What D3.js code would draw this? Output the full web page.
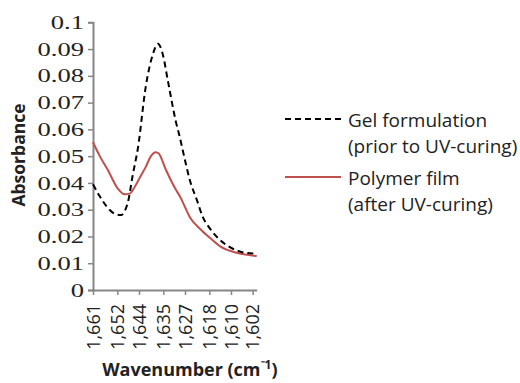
<!DOCTYPE html>
<html>
<head>
<meta charset="utf-8">
<script src="https://cdn.jsdelivr.net/npm/d3@7"></script>
<style>
  body { margin: 0; background: #fff; }
  svg { display: block; }
</style>
</head>
<body>
<div id="chart"></div>
<script>
// Gel formulation (prior to UV-curing)
const gelWavenumber = [1661.0, 1658.5, 1655.8, 1653.0, 1650.7, 1648.1, 1646.3, 1644.4, 1641.5, 1638.9, 1637.0, 1635.2, 1633.3, 1630.4, 1628.9, 1627.0, 1625.2, 1622.6, 1620.4, 1617.8, 1614.1, 1610.4, 1604.1, 1601.0];
const gelAbsorbance = [0.0395, 0.0350, 0.0310, 0.0285, 0.0280, 0.0328, 0.0430, 0.0530, 0.0760, 0.0880, 0.0920, 0.0880, 0.0780, 0.0630, 0.0570, 0.0485, 0.0410, 0.0336, 0.0272, 0.0230, 0.0187, 0.0160, 0.0138, 0.0136];

// Polymer film (after UV-curing)
const filmWavenumber = [1661.0, 1658.5, 1655.6, 1651.9, 1649.3, 1647.4, 1645.6, 1643.7, 1641.5, 1639.6, 1637.8, 1636.7, 1634.1, 1630.4, 1628.9, 1627.0, 1625.2, 1621.4, 1617.7, 1614.0, 1607.6, 1600.5];
const filmAbsorbance = [0.0552, 0.0500, 0.0450, 0.0380, 0.0358, 0.0360, 0.0385, 0.0420, 0.0460, 0.0500, 0.0515, 0.0510, 0.0450, 0.0375, 0.0350, 0.0310, 0.0272, 0.0228, 0.0194, 0.0163, 0.0138, 0.0127];

const xTicks = [1661, 1652, 1644, 1635, 1627, 1618, 1610, 1602];
const yTicks = [0, 0.01, 0.02, 0.03, 0.04, 0.05, 0.06, 0.07, 0.08, 0.09, 0.1];

const seriesNames = [["Gel formulation", "(prior to UV-curing)"], ["Polymer film", "(after UV-curing)"]];

const width = 520, height = 383;
const plot = { left: 93, right: 256.7, top: 22.3, bottom: 290 };

const svg = d3.select('#chart')
  .append('svg')
  .attr('width', width)
  .attr('height', height);

const x = d3.scaleLinear()
  .domain([1661, 1600.5])
  .range([plot.left, plot.right]);

const y = d3.scaleLinear()
  .domain([0, 0.1])
  .range([plot.bottom, plot.top]);

const axisColor = '#868686';

// Y axis
svg.append('g')
  .attr('transform', `translate(${plot.left},0)`)
  .call(d3.axisLeft(y).tickValues(yTicks).tickSize(5).tickPadding(4)
    .tickFormat(d => d === 0 ? '0' : d3.format('.2~f')(d)))
  .call(g => g.select('.domain').attr('stroke', axisColor).attr('stroke-width', 2))
  .call(g => g.selectAll('.tick line').attr('stroke', axisColor).attr('stroke-width', 1.5))
  .call(g => g.selectAll('.tick text')
    .attr('fill', '#222')
    .attr('x', -9 / 1.4)
    .attr('transform', 'scale(1.4,1)')
    .style('font-family', '"Liberation Serif", serif')
    .style('font-size', '19px'));

// X axis
svg.append('g')
  .attr('transform', `translate(0,${plot.bottom})`)
  .call(d3.axisBottom(x).tickValues(xTicks).tickSize(5).tickSizeOuter(0)
    .tickFormat(d3.format(',')))
  .call(g => g.select('.domain').attr('stroke', axisColor).attr('stroke-width', 2))
  .call(g => g.selectAll('.tick line').attr('stroke', axisColor).attr('stroke-width', 1.5))
  .call(g => g.selectAll('.tick text')
    .attr('fill', '#222')
    .attr('transform', 'rotate(-90)')
    .attr('text-anchor', 'end')
    .attr('x', -14)
    .attr('y', 0)
    .attr('dy', '0.35em')
    .style('font-family', '"Open Sans", sans-serif')
    .style('font-size', '18px'));

// Axis titles
svg.append('text')
  .attr('transform', `translate(25,155) rotate(-90)`)
  .attr('text-anchor', 'middle')
  .style('font-family', '"Open Sans", sans-serif')
  .style('font-weight', 'bold')
  .style('font-size', '17.5px')
  .attr('fill', '#222')
  .text('Absorbance');

const xTitle = svg.append('text')
  .attr('x', (plot.left + plot.right) / 2 + 15)
  .attr('y', 376)
  .attr('text-anchor', 'middle')
  .style('font-family', '"Open Sans", sans-serif')
  .style('font-weight', 'bold')
  .style('font-size', '18px')
  .attr('fill', '#222');
xTitle.append('tspan').text('Wavenumber (cm');
xTitle.append('tspan').attr('dy', -7).style('font-size', '12px').text('\u207B1');
xTitle.append('tspan').attr('dy', 7).text(')');

// Lines
const gelData = gelWavenumber.map((w, i) => ({ w, a: gelAbsorbance[i] }));
const filmData = filmWavenumber.map((w, i) => ({ w, a: filmAbsorbance[i] }));

const line = d3.line()
  .x(d => x(d.w))
  .y(d => y(d.a))
  .curve(d3.curveMonotoneX);

svg.append('path')
  .datum(filmData)
  .attr('fill', 'none')
  .attr('stroke', '#c0504d')
  .attr('stroke-width', 2)
  .attr('d', line);

svg.append('path')
  .datum(gelData)
  .attr('fill', 'none')
  .attr('stroke', '#000')
  .attr('stroke-width', 2)
  .attr('stroke-dasharray', '6 4')
  .attr('d', line);

// Legend
const legend = svg.append('g');
const legendItems = [
  { y: 119, stroke: '#000', dash: '6 4', names: seriesNames[0] },
  { y: 177, stroke: '#c0504d', dash: null, names: seriesNames[1] }
];
legendItems.forEach(item => {
  legend.append('line')
    .attr('x1', 285).attr('x2', 341)
    .attr('y1', item.y).attr('y2', item.y)
    .attr('stroke', item.stroke)
    .attr('stroke-width', 2)
    .attr('stroke-dasharray', item.dash);
  item.names.forEach((t, i) => {
    legend.append('text')
      .attr('x', 348)
      .attr('y', item.y + 8 + i * 26)
      .style('font-family', '"Open Sans", sans-serif')
      .style('font-size', '19px')
      .attr('fill', '#222')
      .text(t);
  });
});
</script>
</body>
</html>
